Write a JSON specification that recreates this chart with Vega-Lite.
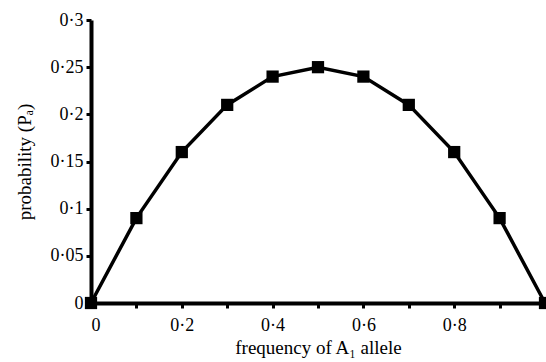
{
  "$schema": "https://vega.github.io/schema/vega-lite/v6.json",
  "width": 454,
  "height": 283,
  "autosize": {"type": "none"},
  "padding": {"left": 91, "top": 20, "right": 1, "bottom": 59},
  "background": "white",
  "config": {
    "view": {"stroke": null},
    "font": "Liberation Serif",
    "axis": {
      "grid": false,
      "domainColor": "black",
      "domainWidth": 4,
      "tickColor": "black",
      "tickWidth": 3,
      "tickSize": 5,
      "labelColor": "black",
      "labelFont": "Liberation Serif",
      "labelFontSize": 18,
      "titleFont": "Liberation Serif",
      "titleFontSize": 19,
      "titleFontWeight": "normal",
      "titleColor": "black"
    }
  },
  "data": {
    "values": [
      {"p": 0, "pa": 0},
      {"p": 0.1, "pa": 0.09},
      {"p": 0.2, "pa": 0.16},
      {"p": 0.3, "pa": 0.21},
      {"p": 0.4, "pa": 0.24},
      {"p": 0.5, "pa": 0.25},
      {"p": 0.6, "pa": 0.24},
      {"p": 0.7, "pa": 0.21},
      {"p": 0.8, "pa": 0.16},
      {"p": 0.9, "pa": 0.09},
      {"p": 1, "pa": 0}
    ]
  },
  "encoding": {
    "x": {
      "field": "p",
      "type": "quantitative",
      "scale": {"domain": [0, 1], "nice": false},
      "axis": {
        "values": [0, 0.1, 0.2, 0.3, 0.4, 0.5, 0.6, 0.7, 0.8, 0.9],
        "format": ".1~f",
        "labelExpr": "(round(datum.value*10) % 2 == 0) ? replace(datum.label, '.', '·') : ''",
        "title": "frequency of A₁ allele",
        "labelPadding": 8,
        "titlePadding": 4
      }
    },
    "y": {
      "field": "pa",
      "type": "quantitative",
      "scale": {"domain": [0, 0.3], "nice": false},
      "axis": {
        "values": [0, 0.05, 0.1, 0.15, 0.2, 0.25, 0.3],
        "format": ".2~f",
        "labelExpr": "replace(datum.label, '.', '·')",
        "title": "probability (Pₐ)",
        "labelPadding": 3,
        "titlePadding": 16
      }
    }
  },
  "layer": [
    {"mark": {"type": "line", "color": "black", "strokeWidth": 3.5, "clip": false}},
    {"mark": {"type": "square", "color": "black", "opacity": 1, "filled": true, "size": 150}}
  ]
}
